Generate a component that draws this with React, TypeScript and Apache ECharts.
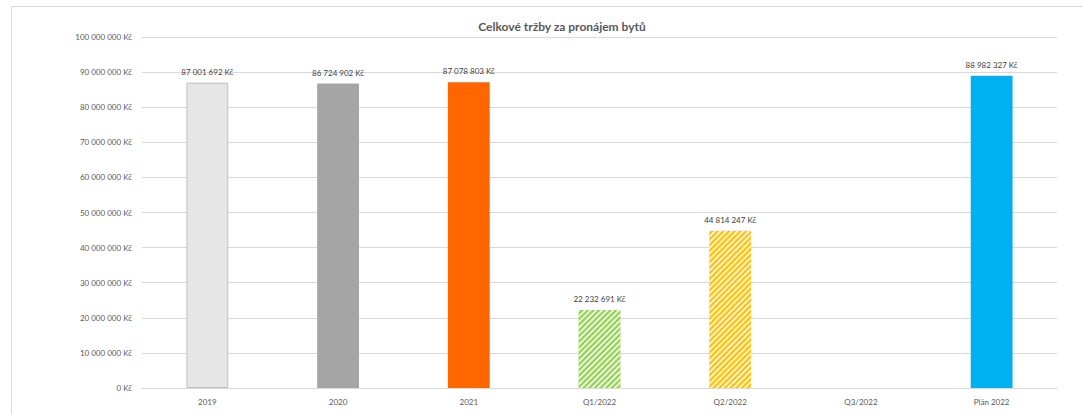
import React, { useEffect, useRef } from "react";
import * as echarts from "echarts";

const categories = ["2019", "2020", "2021", "Q1/2022", "Q2/2022", "Q3/2022", "Plán 2022"];
const values: (number | null)[] = [87001692, 86724902, 87078803, 22232691, 44814247, null, 88982327];
const barColors = ["#E7E6E6", "#A5A5A5", "#FF6600", "#92D050", "#FFC000", "#5B9BD5", "#00B0F0"];
const hatched = [false, false, false, true, true, false, false];
const titleText = "Celkové tržby za pronájem bytů";

const FONT = "Lato, 'Open Sans', sans-serif";

function fmt(v: number): string {
  const s = Math.round(v).toString();
  return s.replace(/\B(?=(\d{3})+(?!\d))/g, " ") + " Kč";
}

export default function App() {
  const ref = useRef<HTMLDivElement>(null);
  useEffect(() => {
    document.body.style.margin = "0";
    if (!ref.current) return;
    const chart = echarts.init(ref.current, null, { renderer: "svg" });
    const data = values.map((v, i) => ({
      value: v,
      itemStyle: {
        color: barColors[i],
        borderColor: i === 0 ? "#BFBFBF" : undefined,
        borderWidth: i === 0 ? 1 : 0,
        decal: hatched[i]
          ? {
              symbol: "rect",
              symbolSize: 1,
              color: "rgba(255,255,255,0.8)",
              dashArrayX: [1, 0],
              dashArrayY: [2, 2],
              rotation: -Math.PI / 4,
            }
          : undefined,
      },
    }));
    chart.setOption({
      animation: false,
      backgroundColor: "#ffffff",
      title: {
        text: titleText,
        left: 557,
        top: 15,
        textAlign: "center",
        textStyle: { fontFamily: FONT, fontSize: 12, fontWeight: "bold", color: "#595959" },
      },
      grid: { left: 142, right: 26, top: 37, bottom: 26, containLabel: false },
      xAxis: {
        type: "category",
        data: categories,
        axisLine: { lineStyle: { color: "#D9D9D9" } },
        axisTick: { show: false },
        axisLabel: { fontFamily: FONT, fontSize: 8, color: "#595959", margin: 10 },
      },
      yAxis: {
        type: "value",
        min: 0,
        max: 100000000,
        interval: 10000000,
        axisLine: { show: false },
        axisTick: { show: false },
        splitLine: { lineStyle: { color: "#D9D9D9" } },
        axisLabel: {
          fontFamily: FONT,
          fontSize: 8,
          color: "#595959",
          margin: 10,
          formatter: (v: number) => fmt(v),
        },
      },
      series: [
        {
          type: "bar",
          data,
          barWidth: "32%",
          label: {
            show: true,
            position: "top",
            distance: 7,
            fontFamily: FONT,
            fontSize: 8,
            color: "#404040",
            formatter: (p: any) => (p.value == null ? "" : fmt(p.value)),
          },
        },
      ],
      graphic: [
        { type: "line", shape: { x1: 11.5, y1: 6.5, x2: 1083, y2: 6.5 }, style: { stroke: "#D9D9D9", lineWidth: 1 } },
        { type: "line", shape: { x1: 11.5, y1: 6.5, x2: 11.5, y2: 414 }, style: { stroke: "#D9D9D9", lineWidth: 1 } },
      ],
    });
    return () => chart.dispose();
  }, []);
  return <div ref={ref} style={{ width: 1083, height: 414 }} />;
}
